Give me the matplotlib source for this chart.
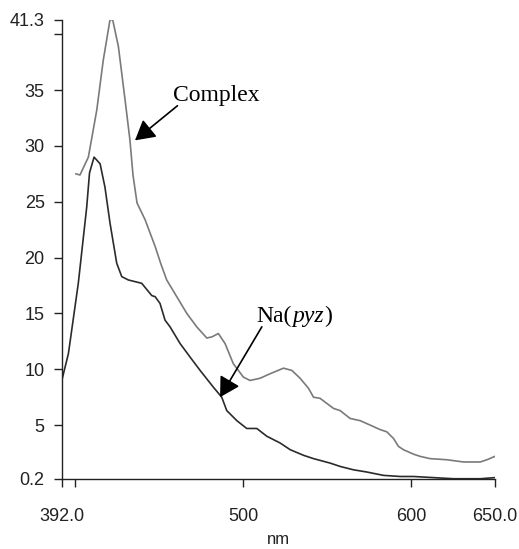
import matplotlib
matplotlib.use("Agg")
import matplotlib.pyplot as plt

# spectra (wavelength in nm, intensity)
complex_nm = [400.3, 402.7, 407.7, 412.7, 416.6, 420.6, 422.2, 425.6, 429.6, 432.5,
              434.3, 436.7, 441.5, 447.5, 451.0, 454.4, 460.4, 466.4, 472.3, 478.3,
              481.3, 485.2, 489.2, 494.1, 500.1, 504.1, 510.1, 516.0, 524.0, 529.0,
              533.9, 538.9, 541.9, 545.8, 553.8, 557.8, 563.7, 569.7, 575.7, 581.6,
              585.6, 589.6, 592.5, 595.5, 601.5, 605.5, 611.4, 621.4, 631.3, 641.3,
              645.3, 650.0]
complex_int = [27.5, 27.4, 29.0, 33.2, 37.7, 41.3, 41.3, 38.9, 34.1, 30.5,
               27.4, 24.9, 23.4, 21.0, 19.4, 18.0, 16.5, 15.0, 13.8, 12.8,
               12.9, 13.2, 12.3, 10.5, 9.3, 9.0, 9.2, 9.6, 10.1, 9.9,
               9.2, 8.3, 7.5, 7.4, 6.5, 6.3, 5.6, 5.4, 5.0, 4.6,
               4.4, 3.8, 3.1, 2.8, 2.4, 2.2, 2.0, 1.9, 1.7, 1.7,
               1.9, 2.2]

napyz_nm = [392.2, 395.8, 401.7, 406.7, 408.4, 411.1, 414.7, 417.6, 420.6, 424.6,
            427.6, 431.5, 439.5, 445.5, 447.5, 450.4, 453.4, 456.4, 462.4, 468.3,
            474.3, 482.2, 487.2, 490.2, 496.2, 502.1, 508.1, 514.1, 522.0, 528.0,
            535.9, 541.9, 551.8, 557.8, 565.7, 573.7, 583.6, 593.6, 601.5, 613.4,
            625.3, 641.3, 650.0]
napyz_int = [9.2, 11.4, 17.7, 24.5, 27.6, 29.0, 28.4, 26.3, 23.1, 19.5,
             18.3, 18.0, 17.7, 16.6, 16.5, 15.9, 14.4, 13.8, 12.3, 11.1,
             9.9, 8.4, 7.5, 6.3, 5.4, 4.7, 4.7, 4.0, 3.4, 2.8,
             2.3, 2.0, 1.6, 1.3, 1.0, 0.8, 0.5, 0.4, 0.4, 0.3,
             0.2, 0.2, 0.3]

x_ticks = [392, 400, 500, 600, 650]
x_labels = ["392.0", "", "500", "600", "650.0"]
y_ticks = [0.2, 5, 10, 15, 20, 25, 30, 35, 40, 41.3]
y_labels = ["0.2", "5", "10", "15", "20", "25", "30", "35", "", "41.3"]

plt.rcParams['font.family'] = ['Liberation Sans', 'DejaVu Sans']

fig = plt.figure(figsize=(5.19, 5.49), dpi=100)
ax = fig.add_axes([0.1195, 0.128, 0.834, 0.836])

ax.plot(complex_nm, complex_int, color='#7a7a7a', lw=1.2)
ax.plot(napyz_nm, napyz_int, color='#2b2b2b', lw=1.2)

ax.set_xlim(392, 650)
ax.set_ylim(0.2, 41.3)
ax.set_xticks(x_ticks)
ax.set_xticklabels(x_labels)
ax.set_yticks(y_ticks)
ax.set_yticklabels(y_labels)

for s in ['top', 'right']:
    ax.spines[s].set_visible(False)
for s in ['left', 'bottom']:
    ax.spines[s].set_linewidth(1.0)
    ax.spines[s].set_color('#222222')

ax.tick_params(axis='x', direction='out', length=6, width=1.0, pad=15, labelsize=13, colors='#222222')
ax.tick_params(axis='y', direction='out', length=5.5, width=1.0, pad=7, labelsize=13, colors='#222222')
ax.set_xlabel("nm", fontsize=12, labelpad=5, color='#222222')

arrow = dict(arrowstyle='-|>,head_length=0.6,head_width=0.34', mutation_scale=20,
             color='black', lw=1.2, shrinkA=0, shrinkB=0)
serif = ['Liberation Serif', 'DejaVu Serif']

ax.annotate('', xy=(435.5, 30.5), xytext=(460.8, 33.6), arrowprops=arrow)
ax.text(458.0, 34.5, "Complex", fontsize=17, family=serif, ha='left', va='center')

ax.annotate('', xy=(486.2, 7.5), xytext=(511.1, 13.8), arrowprops=arrow)
ax.text(508.1, 14.7, "Na(", fontsize=17, family=serif, ha='left', va='center')
ax.text(508.1, 14.7, "Na($\\it{pyz}$)", fontsize=17, family=serif, ha='left', va='center', alpha=0)
t = ax.texts[-2]
fig.canvas.draw()
bb = t.get_window_extent()
x1 = ax.transData.inverted().transform((bb.x1, bb.y0))[0]
t2 = ax.text(x1, 14.7, "pyz", fontsize=17, family=serif, style='italic', ha='left', va='center')
bb2 = t2.get_window_extent(renderer=fig.canvas.get_renderer())
x2 = ax.transData.inverted().transform((bb2.x1, bb2.y0))[0]
ax.text(x2, 14.7, ")", fontsize=17, family=serif, ha='left', va='center')

fig.savefig("out.png", dpi=100)
